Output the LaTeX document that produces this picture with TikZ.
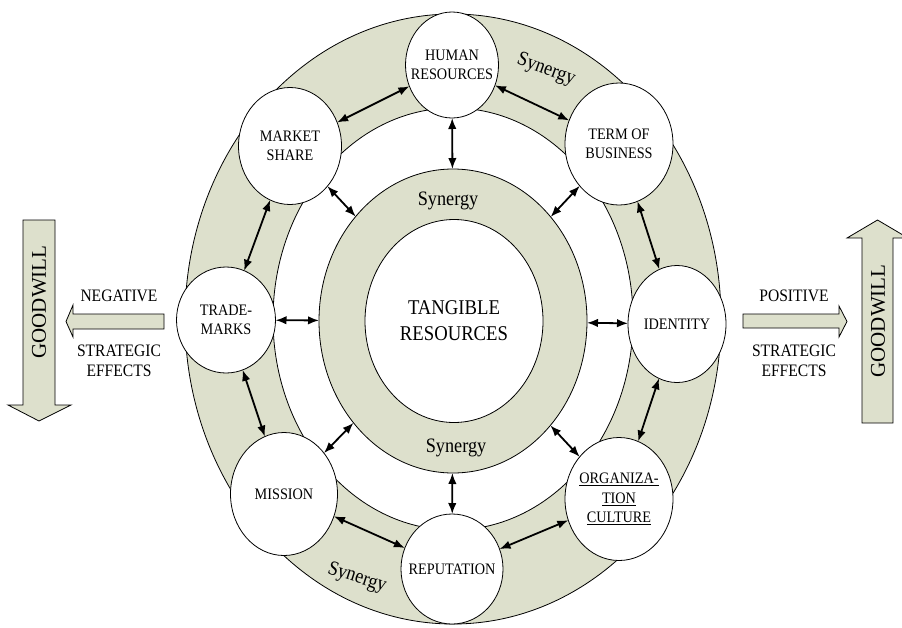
\documentclass[tikz,border=0pt]{standalone}
\usepackage{fontspec}
\setmainfont{Liberation Serif}[FakeStretch=0.89]
\newfontfamily\gwfont{Liberation Serif}
\usetikzlibrary{shapes.geometric,arrows.meta}
\definecolor{ringfill}{RGB}{221,224,204}
\tikzset{
  res/.style={ellipse,draw,fill=white,line width=0.8pt,inner sep=-10pt,outer sep=0pt,
    align=center,minimum width=104pt,minimum height=118pt,font=\fontsize{16}{19.5}\selectfont},
  link/.style={<->,line width=1.8pt,>={Latex[length=11pt,width=8.5pt]}},
  band/.style={draw,fill=ringfill,line width=0.8pt},
  syn/.style={font=\fontsize{20.5}{24}\selectfont},
  side/.style={font=\fontsize{17.5}{20}\selectfont,align=center}
}
\begin{document}
\begin{tikzpicture}[x=1pt,y=-1pt]
\useasboundingbox (0,0) rectangle (902,627);
\coordinate (c) at (453,319);
\draw[band,even odd rule] (c) ellipse [x radius=268pt,y radius=305pt]
  (c) ellipse [x radius=180pt,y radius=211pt];
\node[ellipse,band,minimum width=268pt,minimum height=304pt,inner sep=0pt,outer sep=0pt] (core) at (453,321) {};
\node[ellipse,draw,fill=white,line width=0.8pt,minimum width=178pt,minimum height=203pt,inner sep=0pt,
  align=center,font=\fontsize{21}{26}\selectfont] (tangible) at (454,321) {TANGIBLE\\RESOURCES};
\node[syn] (syntop) at (448,201) {Synergy};
\node[syn] (synbot) at (456,448) {Synergy};
\node[syn,rotate=-20] (synne) at (546,70) {Synergy};
\node[syn,rotate=-18] (synsw) at (357,578) {Synergy};

\node[res,minimum width=93pt,minimum height=106pt] (human) at (452,65) {HUMAN\\RESOURCES};
\node[res,minimum width=108pt,minimum height=122pt] (term) at (619,144) {TERM OF\\BUSINESS};
\node[res,minimum width=98pt,minimum height=117pt] (identity) at (677,324) {IDENTITY};
\node[res,minimum width=108pt,minimum height=123pt] (culture) at (619,499)
  {\underline{ORGANIZA-}\\\underline{TION}\\\underline{CULTURE}};
\node[res,minimum width=102pt,minimum height=110pt] (reputation) at (452,569) {REPUTATION};
\node[res,minimum width=107pt,minimum height=123pt] (mission) at (284,494) {MISSION};
\node[res,minimum width=99pt,minimum height=106pt] (trademarks) at (226,320) {TRADE-\\MARKS};
\node[res,minimum width=103pt,minimum height=117pt] (market) at (290,146) {MARKET\\SHARE};

\foreach \a/\b in {human/term,term/identity,identity/culture,culture/reputation,
  reputation/mission,mission/trademarks,trademarks/market,market/human}
  \draw[link] (\a) -- (\b);
\foreach \a in {human,term,identity,culture,reputation,mission,trademarks,market}
  \draw[link] (\a) -- (core);

\draw[band] (164,314) -- (73,314) -- (73,305) -- (66,321.5) -- (73,337) -- (73,329) -- (164,329) -- cycle;
\draw[band] (743,314) -- (839,314) -- (839,306) -- (847,321.5) -- (839,337) -- (839,328) -- (743,328) -- cycle;
\draw[band] (23,220) -- (55,220) -- (55,405) -- (71,405) -- (39,421) -- (8,405) -- (23,405) -- cycle;
\draw[band] (862,423) -- (862,238) -- (847,238) -- (877.5,220) -- (908,238) -- (893,238) -- (893,423) -- cycle;

\node[side] (neg) at (119,296) {NEGATIVE};
\node[side] (negeff) at (119,361) {STRATEGIC\\EFFECTS};
\node[side] (pos) at (794,296) {POSITIVE};
\node[side] (poseff) at (794,361) {STRATEGIC\\EFFECTS};
\node[rotate=90,font=\gwfont\fontsize{21}{24}\selectfont] (gwneg) at (39,302) {GOODWILL};
\node[rotate=90,font=\gwfont\fontsize{21}{24}\selectfont] (gwpos) at (878,321) {GOODWILL};
\end{tikzpicture}
\end{document}
